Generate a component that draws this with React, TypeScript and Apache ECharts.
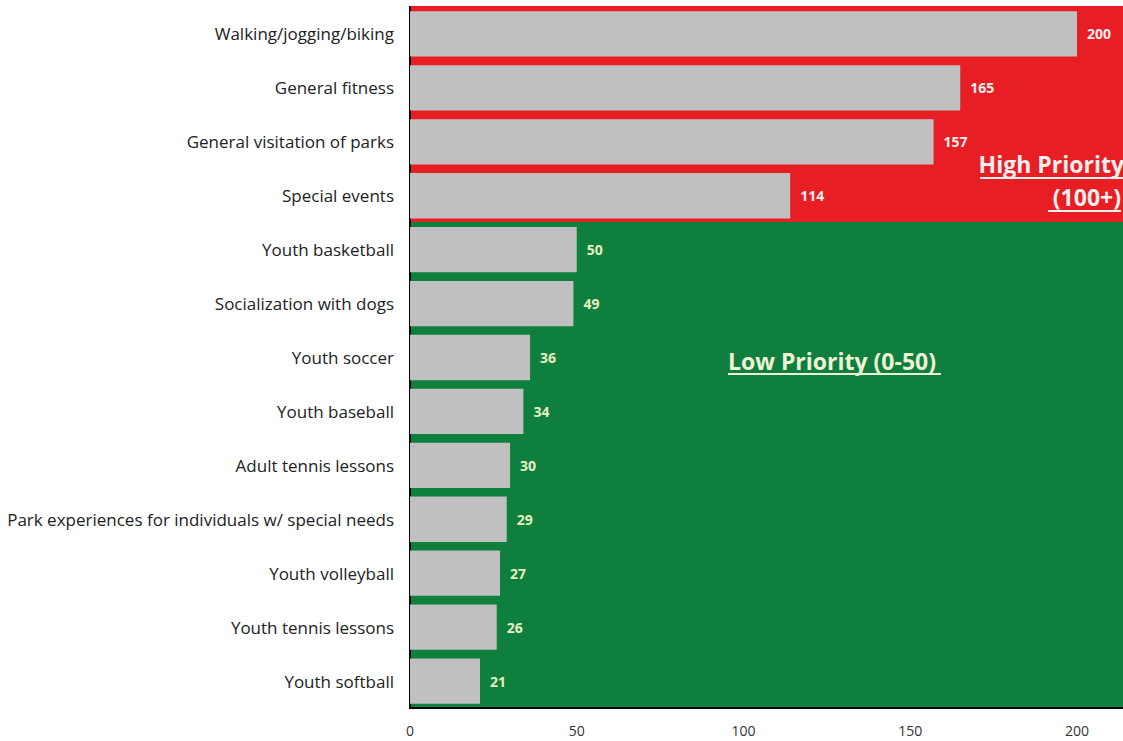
import React, { useEffect, useRef } from "react";
import * as echarts from "echarts";

const categories = [
  "Walking/jogging/biking",
  "General fitness",
  "General visitation of parks",
  "Special events",
  "Youth basketball",
  "Socialization with dogs",
  "Youth soccer",
  "Youth baseball",
  "Adult tennis lessons",
  "Park experiences for individuals w/ special needs",
  "Youth volleyball",
  "Youth tennis lessons",
  "Youth softball",
];
const values = [200, 165, 157, 114, 50, 49, 36, 34, 30, 29, 27, 26, 21];
const xTicks = [0, 50, 100, 150, 200];
const highCount = 4;

const RED = "#e81e25";
const GREEN = "#0f7f3d";
const FONT = "'Open Sans', sans-serif";
const HIGH_TXT = "#fbeeee";
const LOW_TXT = "#eef3d6";

export default function App() {
  const ref = useRef<HTMLDivElement>(null);
  useEffect(() => {
    if (!ref.current) return;
    const chart = echarts.init(ref.current, undefined, { renderer: "svg" });
    const bandColors = categories.map((_, i) => (i < highCount ? RED : GREEN));
    chart.setOption({
      animation: false,
      backgroundColor: "#ffffff",
      grid: {
        left: 410,
        top: 7,
        height: 701,
        width: 717,
        show: true,
        borderColor: "#000",
        borderWidth: 2,
        containLabel: false,
        outerBoundsMode: "none",
      },
      xAxis: {
        type: "value",
        min: 0,
        max: 215,
        interval: 50,
        splitLine: { show: false },
        axisLine: { show: true, lineStyle: { color: "#000", width: 2 } },
        axisTick: { show: false },
        axisLabel: {
          color: "#333",
          fontSize: 14,
          fontFamily: FONT,
          margin: 15,
          formatter: (v: number) => (xTicks.includes(v) ? String(v) : ""),
        },
      },
      yAxis: {
        type: "category",
        inverse: true,
        data: categories,
        axisLine: { show: true, lineStyle: { color: "#000", width: 2 } },
        axisTick: { show: false },
        axisLabel: { color: "#222", fontSize: 17, fontFamily: FONT, margin: 16 },
        splitLine: { show: true, lineStyle: { color: bandColors, width: 2 } },
        splitArea: { show: true, areaStyle: { color: bandColors, opacity: 1 } },
      },
      series: [
        {
          type: "bar",
          barCategoryGap: "16%",
          data: values.map((v, i) => ({
            value: v,
            label: { color: i < highCount ? HIGH_TXT : "#e4f0c2" },
          })),
          itemStyle: { color: "#c0c0c0" },
          label: {
            show: true,
            position: "right",
            distance: 10,
            fontSize: 14,
            fontWeight: "bold",
            fontFamily: FONT,
          },
        },
      ],
      graphic: [
        {
          type: "text",
          x: 1124,
          y: 164,
          z: 100,
          style: {
            text: "High Priority",
            fill: HIGH_TXT,
            font: `bold 23px ${FONT}`,
            textAlign: "right",
            textVerticalAlign: "middle",
          },
        },
        {
          type: "text",
          x: 1121,
          y: 197,
          z: 100,
          style: {
            text: "(100+)",
            fill: HIGH_TXT,
            font: `bold 23px ${FONT}`,
            textAlign: "right",
            textVerticalAlign: "middle",
          },
        },
        {
          type: "text",
          x: 728,
          y: 361,
          z: 100,
          style: {
            text: "Low Priority (0-50)",
            fill: LOW_TXT,
            font: `bold 23px ${FONT}`,
            textAlign: "left",
            textVerticalAlign: "middle",
          },
        },
        { type: "line", z: 100, shape: { x1: 980, y1: 178, x2: 1123, y2: 178 }, style: { stroke: HIGH_TXT, lineWidth: 2 } },
        { type: "line", z: 100, shape: { x1: 1048, y1: 211, x2: 1121, y2: 211 }, style: { stroke: HIGH_TXT, lineWidth: 2 } },
        { type: "line", z: 100, shape: { x1: 728, y1: 374, x2: 941, y2: 374 }, style: { stroke: LOW_TXT, lineWidth: 2 } },
      ],
    });
    return () => chart.dispose();
  }, []);
  return (
    <div
      ref={ref}
      style={{ position: "absolute", left: 0, top: 0, width: 1123, height: 741, overflow: "hidden" }}
    />
  );
}
